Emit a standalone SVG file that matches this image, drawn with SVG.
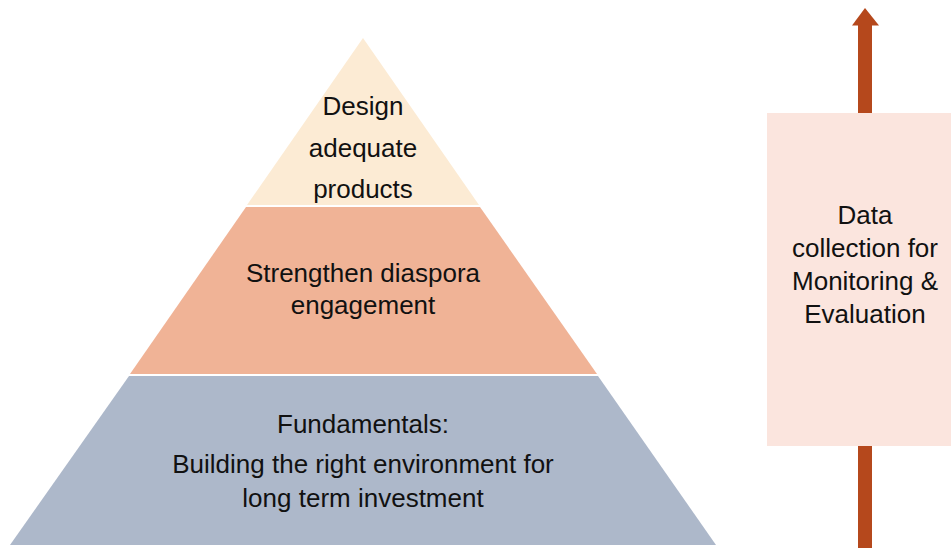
<svg xmlns="http://www.w3.org/2000/svg" width="951" height="548" viewBox="0 0 951 548">
<style>
.t{font-family:"Liberation Sans",Arial,sans-serif;font-size:26px;fill:#111;text-anchor:middle}
</style>
<rect width="951" height="548" fill="#fff"/>
<g id="top-layer">
<polygon points="363,38 479,205 247,205" fill="#FCEBD4"/>
<text class="t" x="363" y="115">Design</text>
<text class="t" x="363" y="157">adequate</text>
<text class="t" x="363" y="198">products</text>
</g>
<g id="middle-layer">
<polygon points="246,207 480,207 597,374 130,374" fill="#F0B396"/>
<text class="t" x="363" y="282">Strengthen diaspora</text>
<text class="t" x="363" y="314">engagement</text>
</g>
<g id="bottom-layer">
<polygon points="129,376 598,376 716,545 10,545" fill="#ADB8CA"/>
<text class="t" x="363" y="433">Fundamentals:</text>
<text class="t" x="363" y="473">Building the right environment for</text>
<text class="t" x="363" y="507">long term investment</text>
</g>
<g id="connectors">
<rect x="858" y="25" width="14" height="88" fill="#B5481C"/>
<polygon points="865,8 879,25.5 852,25.5" fill="#B5481C"/>
<rect x="858" y="446" width="14" height="102" fill="#B5481C"/>
</g>
<g id="me-box">
<rect x="767" y="113" width="184" height="333" fill="#FBE5DE"/>
<text class="t" x="865" y="224">Data</text>
<text class="t" x="865" y="257">collection for</text>
<text class="t" x="865" y="290">Monitoring &amp;</text>
<text class="t" x="865" y="323">Evaluation</text>
</g>
</svg>
